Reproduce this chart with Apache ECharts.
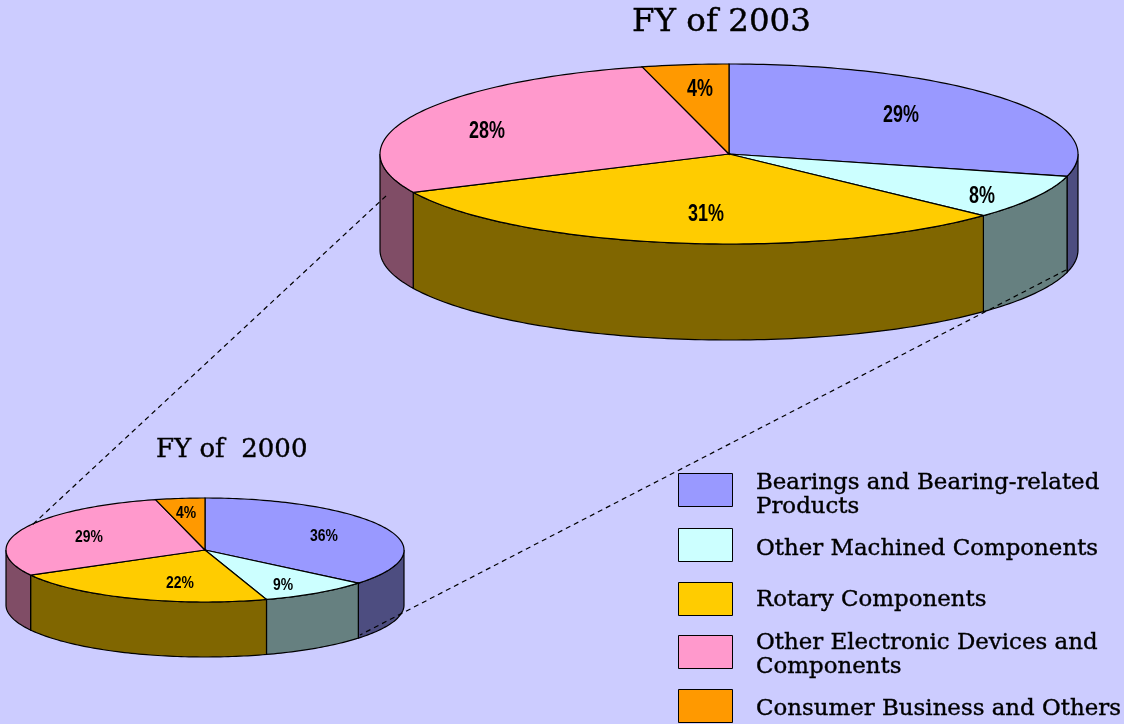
<!DOCTYPE html>
<html><head><meta charset="utf-8">
<style>html,body{margin:0;padding:0;background:#ccccff}#c{width:1124px;height:724px}</style>
<script src="https://cdn.jsdelivr.net/npm/echarts@6/dist/echarts.min.js"></script>
</head><body><div id="c"></div>
<script>
// Data: one entry per fiscal year, [FY 2000, FY 2003]
const years = ['FY of  2000', 'FY of 2003'];
const categories = ['Bearings and Bearing-related\nProducts', 'Other Machined Components', 'Rotary Components', 'Other Electronic Devices and\nComponents', 'Consumer Business and Others'];
const bearings = [36, 29];
const machined = [9, 8];
const rotary = [22, 31];
const electronic = [29, 28];
const consumer = [4, 4];
const seriesValues = [bearings, machined, rotary, electronic, consumer];

// Styling / layout
const topColors = ['#9999ff', '#ccffff', '#ffcc00', '#ff99cc', '#ff9900'];
const sideColors = ['#4d4d80', '#668080', '#806600', '#804d66', '#804d00'];
const pies = [
  {cx: 205, cy: 550, rx: 199, ry: 52, depth: 55, font: 16, sx: 0.87, dy: 1},
  {cx: 729, cy: 154, rx: 349, ry: 90, depth: 96, font: 23, sx: 0.78, dy: 2}
];
const labelPos = [
  [[324, 536], [901, 114]],
  [[283, 585], [982, 195]],
  [[180, 583], [706, 213]],
  [[89, 537], [487, 130]],
  [[186, 513], [700, 88]]
];
const legendSwatchTop = [473, 528, 582, 635, 689];
const legendTextCenter = [495, 549, 600, 655, 709];
const SERIF = '"DejaVu Serif","Liberation Serif",serif';

function cumBefore(cat, yr) {
  let s = 0, t = 0;
  seriesValues.forEach((v, i) => { t += v[yr]; if (i < cat) s += v[yr]; });
  return [s / t, t];
}
function ringPt(p, a, dy) {
  return [p.cx + p.rx * Math.sin(a), p.cy - p.ry * Math.cos(a) + (dy || 0)];
}
function arc(p, a0, a1, dy) {
  const n = Math.max(2, Math.ceil(Math.abs(a1 - a0) / 0.02)), out = [];
  for (let i = 0; i <= n; i++) out.push(ringPt(p, a0 + (a1 - a0) * i / n, dy));
  return out;
}

const series = categories.map((name, cat) => ({
  type: 'custom',
  name,
  coordinateSystem: 'none',
  silent: true,
  itemStyle: {color: topColors[cat]},
  data: years.map((y, yr) => [yr, seriesValues[cat][yr]]),
  renderItem(params, api) {
    const yr = api.value(0), val = api.value(1), p = pies[yr];
    const [start, total] = cumBefore(cat, yr);
    const a0 = start * 2 * Math.PI, a1 = (start + val / total) * 2 * Math.PI;
    const line = {stroke: '#000', lineWidth: 1.2};
    const children = [];
    const w0 = Math.max(a0, Math.PI / 2), w1 = Math.min(a1, 3 * Math.PI / 2);
    if (w1 > w0) {
      const pts = arc(p, w0, w1, 0).concat(arc(p, w1, w0, p.depth));
      children.push({type: 'polygon', shape: {points: pts}, style: {fill: sideColors[cat], ...line}});
    }
    children.push({type: 'polygon', shape: {points: [[p.cx, p.cy]].concat(arc(p, a0, a1, 0))},
      style: {fill: topColors[cat], ...line}});
    const lp = labelPos[cat][yr];
    children.push({type: 'text', x: lp[0], y: lp[1] + p.dy, scaleX: p.sx, z2: 10, style: {
      text: val + '%', fill: '#000', align: 'center', verticalAlign: 'middle',
      font: 'bold ' + p.font + 'px "Liberation Sans",sans-serif'
    }});
    return {type: 'group', children};
  }
}));

const heavy = {fontFamily: SERIF, fontWeight: 'normal', color: '#000', textBorderColor: '#000', textBorderWidth: 0.4};
const chart = echarts.init(document.getElementById('c'), null, {renderer: 'canvas'});
chart.setOption({
  animation: false,
  backgroundColor: '#ccccff',
  title: [
    {text: years[1], left: 627, top: 1, textStyle: {...heavy, fontSize: 32.5}},
    {text: years[0], left: 151, top: 432, textStyle: {...heavy, fontSize: 26}}
  ],
  legend: categories.map((c, i) => ({
    orient: 'vertical', left: 678, padding: 0,
    top: legendSwatchTop[i],
    itemWidth: 54, itemHeight: 33, icon: 'rect', selectedMode: false,
    data: [c],
    formatter: () => '',
    itemStyle: {borderColor: '#000', borderWidth: 1}
  })),
  series,
  graphic: [
    {type: 'line', z: 100, shape: {x1: 386, y1: 196, x2: 30, y2: 527}, style: {stroke: '#000', lineWidth: 1.2, lineDash: [5, 4]}},
    {type: 'line', z: 100, shape: {x1: 1066, y1: 270, x2: 360, y2: 635}, style: {stroke: '#000', lineWidth: 1.2, lineDash: [5, 4]}},
    ...categories.map((c, i) => ({
      type: 'text', x: 756, y: legendTextCenter[i], z: 100,
      style: {text: c, fill: '#000', stroke: '#000', lineWidth: 0.4, align: 'left', verticalAlign: 'middle',
        lineHeight: 24, font: '22.9px ' + SERIF}
    }))
  ]
});
</script></body></html>
